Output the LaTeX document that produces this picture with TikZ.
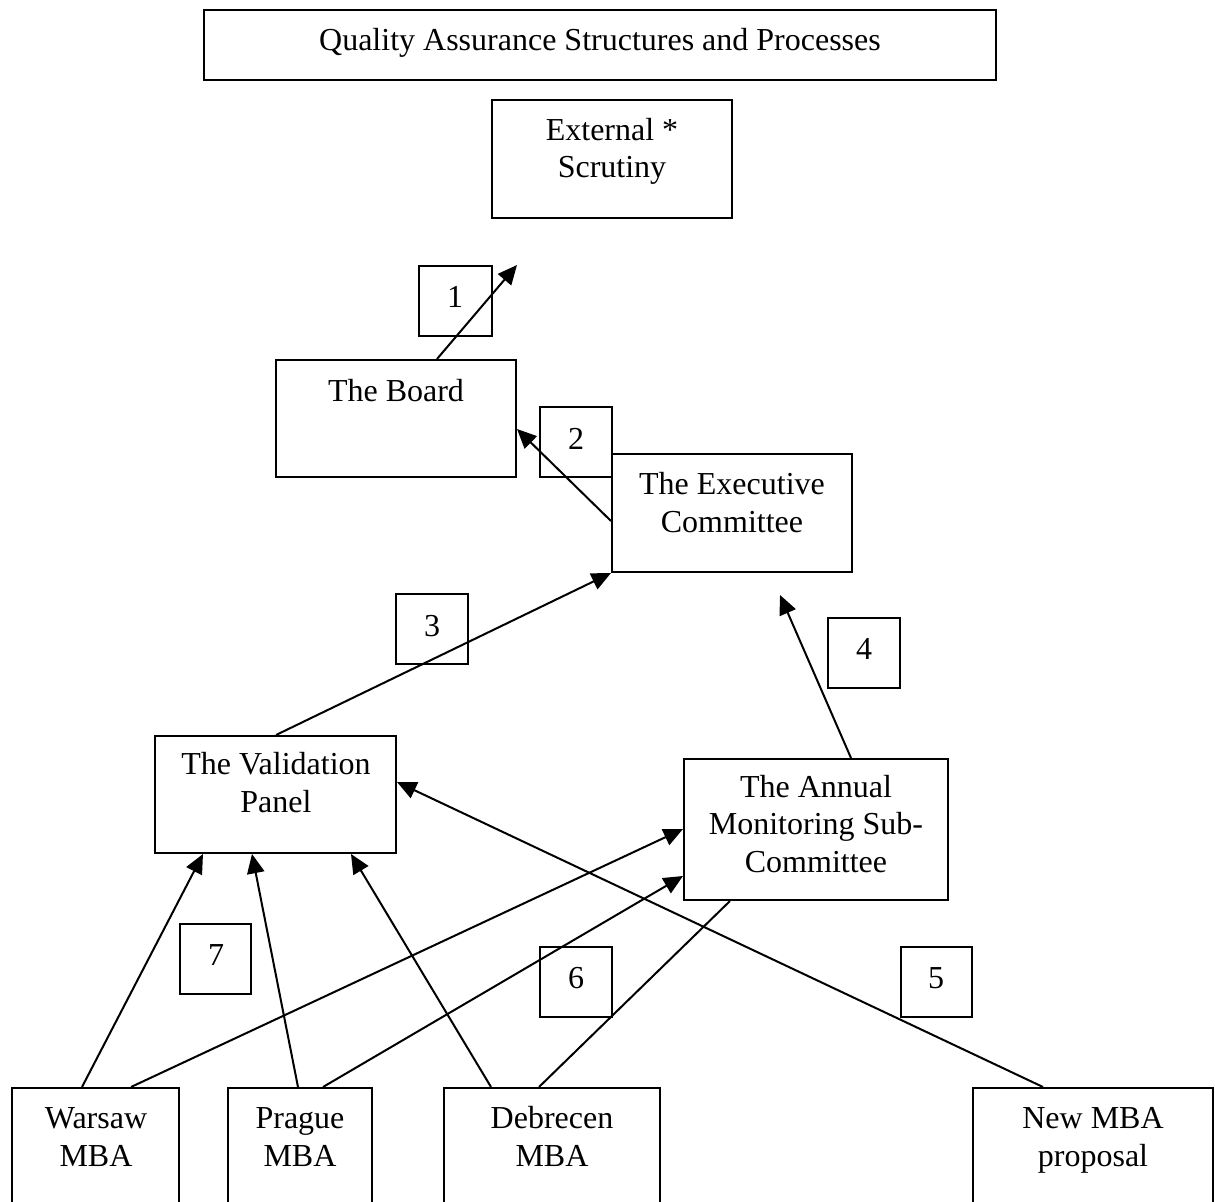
\documentclass[tikz,border=0pt]{standalone}
\usepackage{fontspec}
\setmainfont{Liberation Serif}
\usetikzlibrary{arrows.meta,fit,calc}
\begin{document}
\begin{tikzpicture}[x=0.75pt,y=-0.75pt,
  box/.style={draw, line width=1.5pt, inner sep=0pt},
  txt/.style={font=\fontsize{24}{27.8}\selectfont, align=center, anchor=base, inner sep=0pt},
  arr/.style={line width=1.5pt, -{Triangle[length=14.5pt,width=13pt]}},
  ln/.style={line width=1.5pt}]
\useasboundingbox (0,0) rectangle (1215,1202);
% boxes
\node[box, fit={(204,10) (996,80)}] (title) {};
\node[box, fit={(492,100) (732,218)}] (ext) {};
\node[box, fit={(419,266) (492,336)}] (n1) {};
\node[box, fit={(276,360) (516,477)}] (board) {};
\node[box, fit={(540,407) (612,477)}] (n2) {};
\node[box, fit={(612,454) (852,572)}] (exec) {};
\node[box, fit={(396,594) (468,664)}] (n3) {};
\node[box, fit={(828,618) (900,688)}] (n4) {};
\node[box, fit={(155,736) (396,853)}] (val) {};
\node[box, fit={(684,759) (948,900)}] (amsc) {};
\node[box, fit={(180,924) (251,994)}] (n7) {};
\node[box, fit={(540,947) (612,1017)}] (n6) {};
\node[box, fit={(901,947) (972,1017)}] (n5) {};
\node[box, fit={(12,1088) (179,1260)}] (warsaw) {};
\node[box, fit={(228,1088) (372,1260)}] (prague) {};
\node[box, fit={(444,1088) (660,1260)}] (debrecen) {};
\node[box, fit={(973,1088) (1213,1260)}] (newmba) {};
% texts (anchor = baseline of the last line)
\node[txt] (titleT) at (600,51) {Quality Assurance Structures and Processes};
\node[txt] (extT) at (612,178) {External *\\Scrutiny};
\node[txt] (n1T) at (455,308) {1};
\node[txt] (boardT) at (396,401) {The Board};
\node[txt] (n2T) at (576,449) {2};
\node[txt] (execT) at (732,532) {The Executive\\Committee};
\node[txt] (n3T) at (432,636) {3};
\node[txt] (n4T) at (864,659) {4};
\node[txt] (valT) at (276,812) {The Validation\\Panel};
\node[txt] (amscT) at (816,872) {The Annual\\Monitoring Sub-\\Committee};
\node[txt] (n7T) at (216,965) {7};
\node[txt] (n6T) at (576,988) {6};
\node[txt] (n5T) at (936,988) {5};
\node[txt] (warsawT) at (96,1166) {Warsaw\\MBA};
\node[txt] (pragueT) at (300,1166) {Prague\\MBA};
\node[txt] (debrecenT) at (552,1166) {Debrecen\\MBA};
\node[txt] (newmbaT) at (1093,1166) {New MBA\\proposal};
% free ends
\coordinate (t1) at (517,265);
\coordinate (t4) at (780,595);
% connectors
\draw[arr] ($(board.north west)+(162,0)$) -- (t1);
\draw[arr] ($(exec.north west)+(0,68)$) -- ($(board.north east)+(0,70)$);
\draw[arr] ($(val.north west)+(122,0)$) -- (exec.south west);
\draw[arr] ($(amsc.north west)+(168,0)$) -- (t4);
\draw[arr] ($(warsaw.north west)+(71,0)$) -- ($(val.south west)+(49,0)$);
\draw[arr] ($(prague.north west)+(71,0)$) -- ($(val.south west)+(98,0)$);
\draw[arr] ($(debrecen.north west)+(48,0)$) -- ($(val.south west)+(197,0)$);
\draw[arr] ($(warsaw.north west)+(120,0)$) -- ($(amsc.north west)+(0,71)$);
\draw[arr] ($(prague.north west)+(96,0)$) -- ($(amsc.north west)+(0,118)$);
\draw[ln] ($(debrecen.north west)+(96,0)$) -- ($(amsc.south west)+(47,0)$);
\draw[arr] ($(newmba.north west)+(71,0)$) -- ($(val.north east)+(0,47)$);
\end{tikzpicture}
\end{document}
